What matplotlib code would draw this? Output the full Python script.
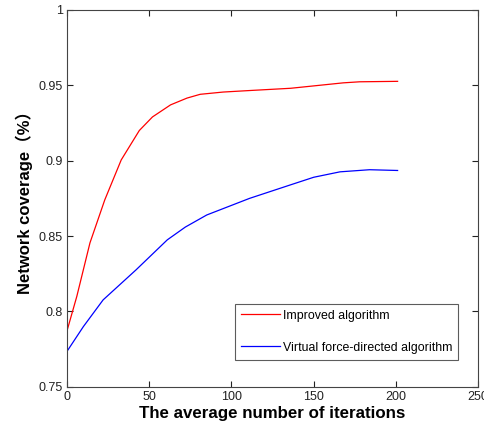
import matplotlib.pyplot as plt
import numpy as np

plt.rcParams["font.family"] = ["Liberation Sans", "Noto Sans CJK SC", "DejaVu Sans"]

iters_improved = [0, 6, 14, 23, 33, 44, 52, 63, 73, 81, 95, 111, 136, 168, 178, 201]
cov_improved = [0.787, 0.810, 0.8455, 0.874, 0.9005, 0.920, 0.929, 0.937, 0.9415, 0.944,
                0.9455, 0.9465, 0.948, 0.9516, 0.9523, 0.9526]

iters_vfa = [0, 10, 22, 42, 61, 72, 85, 98, 111, 136, 150, 166, 184, 201]
cov_vfa = [0.7735, 0.790, 0.8077, 0.8276, 0.8475, 0.856, 0.864, 0.8695, 0.875, 0.884,
           0.889, 0.8926, 0.894, 0.8935]

fig = plt.figure(figsize=(4.85, 4.28), dpi=100)
ax = fig.add_axes([0.138, 0.096, 0.848, 0.881])

ax.plot(iters_improved, cov_improved, color="red", lw=0.9, label="Improved algorithm")
ax.plot(iters_vfa, cov_vfa, color="blue", lw=0.9, label="Virtual force-directed algorithm")

ax.set_xlim(0, 250)
ax.set_ylim(0.75, 1)
ax.set_xticks(np.arange(0, 251, 50))
ax.set_yticks([0.75, 0.8, 0.85, 0.9, 0.95, 1])
ax.set_yticklabels(["0.75", "0.8", "0.85", "0.9", "0.95", "1"])
ax.tick_params(direction="in", top=True, right=True, labelsize=9, length=4,
               colors="#222222", pad=3)
for s in ax.spines.values():
    s.set_color("#444444")
    s.set_linewidth(0.8)

ax.set_xlabel("The average number of iterations", fontsize=12.2, fontweight="bold", labelpad=2)
ax.set_ylabel("Network coverage（%）", fontsize=12, fontweight="bold", labelpad=4)

leg = ax.legend(loc="lower right", bbox_to_anchor=(0.952, 0.072), fontsize=8.9,
                frameon=True, fancybox=False, edgecolor="#333333", labelspacing=1.6,
                handlelength=3.1, handletextpad=0.25, borderpad=0.5, borderaxespad=0)
leg.get_frame().set_linewidth(0.8)

fig.savefig("out.png", dpi=100)
